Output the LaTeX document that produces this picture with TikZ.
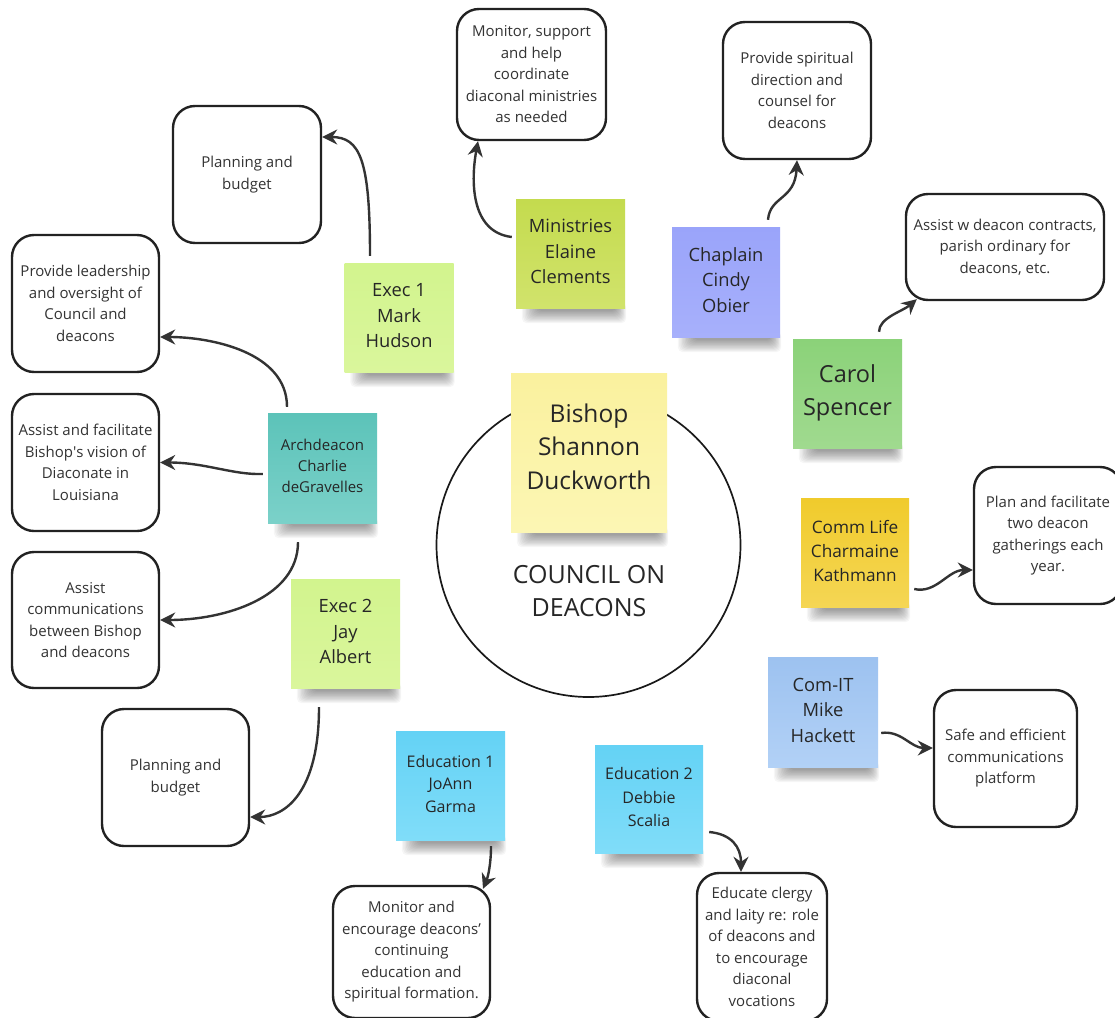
\documentclass[tikz,border=0pt]{standalone}
\usepackage{fontspec}
\setmainfont{Open Sans}
\usetikzlibrary{arrows.meta,calc}
\pgfdeclarelayer{bg}
\pgfsetlayers{bg,main}
\definecolor{boxline}{HTML}{222222}
\definecolor{boxtext}{HTML}{333333}
\definecolor{notetext}{HTML}{262626}
\definecolor{connc}{HTML}{333333}
\definecolor{execT}{HTML}{D2F48E}\definecolor{execB}{HTML}{DAF69C}
\definecolor{archT}{HTML}{5CC3B9}\definecolor{archB}{HTML}{7BD1C9}
\definecolor{minT}{HTML}{C4DB4E}\definecolor{minB}{HTML}{D1E36C}
\definecolor{chapT}{HTML}{9AA4FA}\definecolor{chapB}{HTML}{A7B0FB}
\definecolor{carolT}{HTML}{8BD279}\definecolor{carolB}{HTML}{A0DA8F}
\definecolor{commT}{HTML}{F0CB2C}\definecolor{commB}{HTML}{F5D654}
\definecolor{bishT}{HTML}{FAF19E}\definecolor{bishB}{HTML}{FCF6B4}
\definecolor{eduT}{HTML}{64D2F5}\definecolor{eduB}{HTML}{80DDF9}
\definecolor{itT}{HTML}{9DC2F0}\definecolor{itB}{HTML}{B2D1F6}
\newcommand\straightapos{\XeTeXglyph\XeTeXcharglyph"0027\relax}
\newcommand\noteshadow[1]{%
 \foreach \i in {0,...,11}{%
  \fill[black,opacity=.037,rounded corners=5pt] ($(#1.south west)+(6+1.4*\i,-6)$) rectangle ($(#1.south east)+(1-0.9*\i,15-1.1*\i)$);}}
\tikzset{
 box/.style={draw=boxline, line width=2.4pt, rounded corners=22pt, fill=white, align=center,
   text=boxtext, font=\fontsize{15}{21.5}\selectfont, inner sep=0pt},
 note/.style={inner sep=0pt, align=center, text=notetext, minimum width=109pt, minimum height=109pt,
   font=\fontsize{18.3}{25.5}\selectfont, text depth=4pt},
 conn/.style={draw=connc, line width=2.4pt, -{Stealth[length=15pt,width=15pt,inset=5pt]}}
}
\begin{document}
\begin{tikzpicture}[x=1pt,y=-1pt]
\useasboundingbox (0,0) rectangle (1115,1017);
\clip (0,0) rectangle (1115,1017);
% responsibility boxes
\node[box, minimum width=148pt, minimum height=137pt] (b1) at (247,174.5) {Planning and\\budget};
\node[box, minimum width=149pt, minimum height=131pt] (b2) at (531.5,74.5) {Monitor, support\\and help\\coordinate\\diaconal ministries\\as needed};
\node[box, minimum width=148pt, minimum height=137pt] (b3) at (797,90.5) {Provide spiritual\\direction and\\counsel for\\deacons};
\node[box, minimum width=198pt, minimum height=106pt] (b4) at (1005,247) {Assist w deacon contracts,\\parish ordinary for\\deacons, etc.};
\node[box, minimum width=147pt, minimum height=137pt] (b5) at (85.5,303.5) {Provide leadership\\and oversight of\\Council and\\deacons};
\node[box, minimum width=147pt, minimum height=137pt] (b6) at (85.5,462.5) {Assist and facilitate\\Bishop\straightapos s vision of\\Diaconate in\\Louisiana};
\node[box, minimum width=147pt, minimum height=136pt] (b7) at (85.5,620) {Assist\\communications\\between Bishop\\and deacons};
\node[box, minimum width=147pt, minimum height=137pt] (b8) at (175.5,777.5) {Planning and\\budget};
\node[box, minimum width=148pt, minimum height=137pt] (b9) at (1048,535.5) {Plan and facilitate\\two deacon\\gatherings each\\year.};
\node[box, minimum width=143pt, minimum height=137pt] (b10) at (1005.5,758.5) {Safe and efficient\\communications\\platform};
\node[box, minimum width=157pt, minimum height=132pt] (b11) at (411.5,952) {Monitor and\\encourage deacons’\\continuing\\education and\\spiritual formation.};
\node[box, minimum width=130pt, minimum height=148pt] (b12) at (762,947) {Educate clergy\\and laity re: role\\of deacons and\\to encourage\\diaconal\\vocations};
% council circle
\node[circle, draw=black!90, line width=1.7pt, minimum size=304pt, inner sep=0pt] (ring) at (588.5,545) {};
\node[align=center, text=notetext, font=\fontsize{25}{33}\selectfont] (council) at (589,591) {COUNCIL ON\\DEACONS};
% sticky notes
\node[note, top color=execT, bottom color=execB] (exec1) at (399,317.5) {Exec 1\\Mark\\Hudson};
\node[note, top color=archT, bottom color=archB, minimum height=110pt, font=\fontsize{15}{21}\selectfont] (arch) at (322.5,468) {Archdeacon\\Charlie\\deGravelles};
\node[note, top color=minT, bottom color=minB] (minist) at (570.5,253.5) {Ministries\\Elaine\\Clements};
\node[note, top color=chapT, bottom color=chapB, minimum width=108pt, minimum height=110pt] (chap) at (726,282) {Chaplain\\Cindy\\Obier};
\node[note, top color=carolT, bottom color=carolB, font=\fontsize{23.5}{33}\selectfont, text depth=6pt] (carol) at (847.5,393.5) {Carol\\Spencer};
\node[note, top color=commT, bottom color=commB, minimum width=108pt, font=\fontsize{17.2}{24}\selectfont] (comm) at (855,552.5) {Comm Life\\Charmaine\\Kathmann};
\node[note, top color=bishT, bottom color=bishB, minimum width=156pt, minimum height=159pt, font=\fontsize{24.5}{33.5}\selectfont, text depth=12pt] (bishop) at (589,452.5) {Bishop\\Shannon\\Duckworth};
\node[note, top color=execT, bottom color=execB] (exec2) at (345.5,633.5) {Exec 2\\Jay\\Albert};
\node[note, top color=eduT, bottom color=eduB, font=\fontsize{16}{22.5}\selectfont] (edu1) at (450.5,785.5) {Education 1\\JoAnn\\Garma};
\node[note, top color=eduT, bottom color=eduB, minimum width=108pt, minimum height=108pt, font=\fontsize{16}{23.5}\selectfont] (edu2) at (649,799) {Education 2\\Debbie\\Scalia};
\node[note, top color=itT, bottom color=itB, minimum width=110pt, minimum height=110pt] (comit) at (823,712) {Com-IT\\Mike\\Hackett};
% shadows and page background
\begin{pgfonlayer}{bg}
\fill[white] (0,0) rectangle (1115,1017);
\noteshadow{exec1}\noteshadow{arch}\noteshadow{minist}\noteshadow{chap}
\noteshadow{carol}\noteshadow{comm}\noteshadow{bishop}\noteshadow{exec2}
\noteshadow{edu1}\noteshadow{edu2}\noteshadow{comit}
\end{pgfonlayer}
% connectors
\draw[conn] ($(exec1.north)+(-29,-7)$) .. controls +(0,-96) and +(38,0) .. ($(b1.east)+(0,-37.5)$);
\draw[conn] ($(minist.west)+(-4,-16.5)$) .. controls +(-42,-5) and +(-7,38) .. ($(b2.south)+(-53.5,0)$);
\draw[conn] ($(chap.north)+(42,-7)$) .. controls +(2,-24) and +(-2,40) .. (b3.south);
\draw[conn] ($(carol.north)+(31.5,-7)$) .. controls +(0,-14) and +(-14,12) .. ($(b4.south west)+(12,-2)$);
\draw[conn] ($(arch.north)+(-35.5,-6)$) .. controls +(0,-55) and +(50,0) .. ($(b5.east)+(0,33.5)$);
\draw[conn] ($(arch.west)+(-5,6)$) .. controls +(-30,1) and +(45,0) .. (b6.east);
\draw[conn] ($(arch.south)+(-24.5,19)$) .. controls +(0,55) and +(65,0) .. (b7.east);
\draw[conn] ($(exec2.south)+(-26.5,19)$) .. controls +(0,85) and +(35,0) .. ($(b8.east)+(0,39.5)$);
\draw[conn] ($(edu1.south)+(40.5,6)$) .. controls +(0,18) and +(5,-12) .. ($(b11.north)+(71.5,4)$);
\draw[conn] ($(edu2.east)+(6,33)$) .. controls +(22,2) and +(0,-25) .. ($(b12.north)+(-21,0)$);
\draw[conn] ($(comm.east)+(5,36.5)$) .. controls +(22,5) and +(-25,0) .. ($(b9.west)+(0,34.5)$);
\draw[conn] ($(comit.east)+(3,21)$) .. controls +(20,-3) and +(-22,0) .. ($(b10.west)+(0,-10.5)$);
\end{tikzpicture}
\end{document}
